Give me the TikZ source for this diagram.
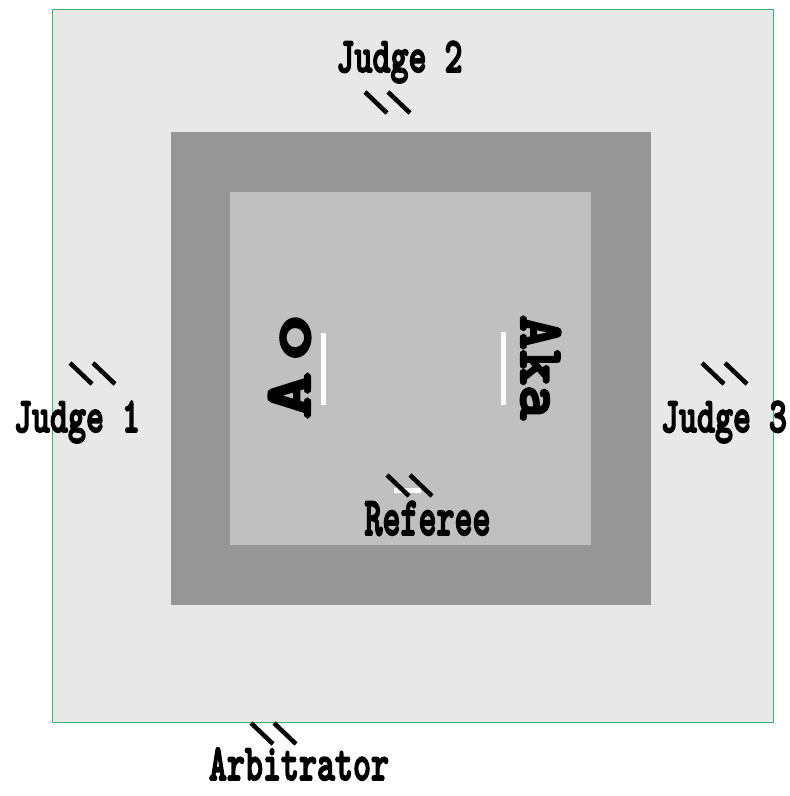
\documentclass[tikz,border=0pt]{standalone}
\usepackage{fontspec}
\newfontfamily\officialfont[FakeBold=3.5]{lmmonolt10-bold.otf}
\definecolor{hallfloor}{RGB}{232,232,232}
\definecolor{matouter}{RGB}{150,150,150}
\definecolor{matinner}{RGB}{192,192,192}
\definecolor{hallline}{RGB}{60,179,113}
\newcommand{\tallword}[2]{\scalebox{1}[#1]{#2}}

\begin{document}
\begin{tikzpicture}[x=1pt,y=-1pt]
    \tikzstyle{every node} = [inner sep=0pt, anchor=base]
    \tikzstyle{role} = [font=\officialfont\fontsize{34.3}{34.3}\selectfont]
    \tikzstyle{side} = [font=\officialfont\fontsize{66.7}{66.7}\selectfont]
    \tikzstyle{stroke} = [line width=4.5pt, black]
    \useasboundingbox (0,0) rectangle (790,796);
    % hall and mats
    \fill[hallfloor] (52,9) rectangle (773,722);
    \draw[hallline, line width=0.8pt] (52,9) rectangle (773,722);
    \fill[matouter] (171,132) rectangle (651,605);
    \fill[matinner] (230,192) rectangle (591,545);
    % start lines
    \fill[white] (321,333) rectangle (326,405);
    \fill[white] (501,332) rectangle (506,405);
    \fill[white] (394,488) rectangle (421,493);
    % officials
    \node[role] (judgeTwo) at (399.5,72) {\tallword{1.45}{Judge 2}};
    \node[role] (judgeOne) at (77,432) {\tallword{1.45}{Judge 1}};
    \node[role] (judgeThree) at (724,432) {\tallword{1.45}{Judge 3}};
    \node[role] (referee) at (427.5,535) {\tallword{1.6}{Referee}};
    \node[role] (arbitrator) at (299,780) {\tallword{1.5}{Arbitrator}};
    % competitors
    \node[side, rotate=90] (ao) at (310,366.5) {\tallword{1.0}{\scalebox{1.35}[1]{A\kern8pt o}}};
    \node[side, rotate=-90] (aka) at (521,367.5) {\tallword{0.95}{Aka}};
    % position marks
    \foreach \mx/\my in {365/92, 70/363, 702/363, 387/475, 251/723}
    {
        \draw[stroke] (\mx,\my) -- ++(22,21);
        \draw[stroke] (\mx+23,\my) -- ++(22,21);
    }
\end{tikzpicture}
\end{document}
